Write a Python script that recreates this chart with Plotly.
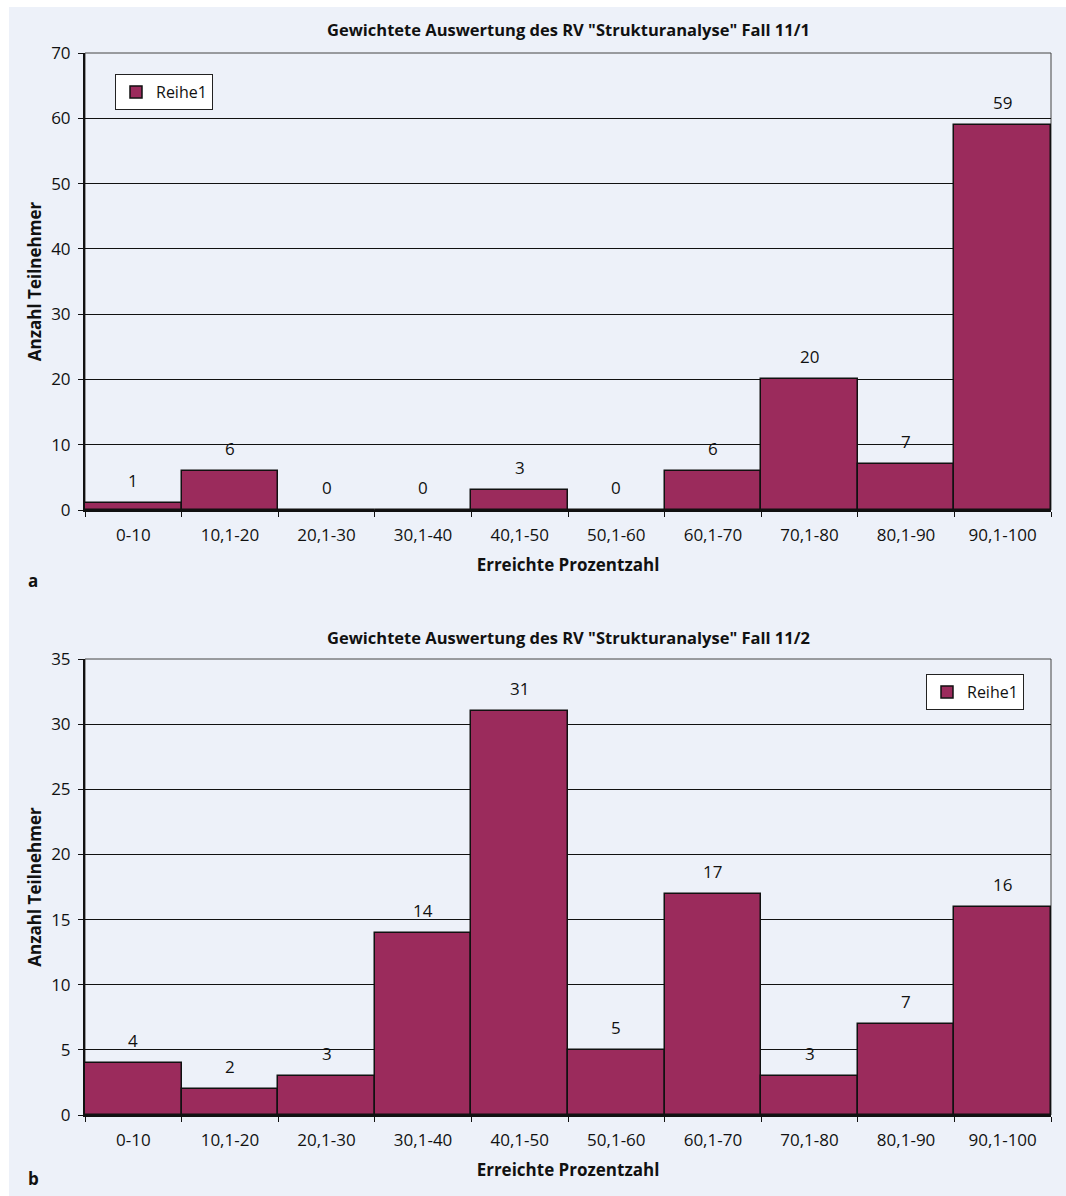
import plotly.graph_objects as go
from plotly.subplots import make_subplots

# Score bands (percent reached)
categories = ["0-10", "10,1-20", "20,1-30", "30,1-40", "40,1-50",
              "50,1-60", "60,1-70", "70,1-80", "80,1-90", "90,1-100"]
# Participant counts per band
fall_11_1 = [1, 6, 0, 0, 3, 0, 6, 20, 7, 59]
fall_11_2 = [4, 2, 3, 14, 31, 5, 17, 3, 7, 16]

title_a = 'Gewichtete Auswertung des RV "Strukturanalyse" Fall 11/1'
title_b = 'Gewichtete Auswertung des RV "Strukturanalyse" Fall 11/2'
x_title = "Erreichte Prozentzahl"
y_title = "Anzahl Teilnehmer"
series_name = "Reihe1"

BAR = "#9b2b5c"
BG = "#edf1f9"
FONT = "Open Sans"
W, H = 1066, 1196

fig = make_subplots(rows=2, cols=1)

fig.add_trace(go.Bar(x=categories, y=fall_11_1, name=series_name,
                     marker=dict(color=BAR, line=dict(color="#111", width=1.5)),
                     legend="legend", showlegend=True), row=1, col=1)
fig.add_trace(go.Bar(x=categories, y=fall_11_2, name=series_name,
                     marker=dict(color=BAR, line=dict(color="#111", width=1.5)),
                     legend="legend2", showlegend=True), row=2, col=1)

xdom = [85 / W, 1051 / W]
ydom_a = [1 - 510 / H, 1 - 53 / H]
ydom_b = [1 - 1115 / H, 1 - 659 / H]

axis_common = dict(showline=True, linecolor="#111", linewidth=2,
                   ticks="outside", ticklen=5, tickcolor="#111",
                   automargin=False,
                   tickfont=dict(size=17, color="#111", family=FONT))

fig.update_xaxes(domain=xdom, tickson="boundaries", showgrid=False,
                 ticklabelstandoff=9,
                 title=dict(text=x_title, font=dict(size=17, color="#111",
                                                    family=FONT, weight="bold"),
                            standoff=14),
                 **axis_common)
fig.update_yaxes(showgrid=True, gridcolor="#111", gridwidth=1, zeroline=False,
                 ticklabelstandoff=4,
                 title=dict(text=y_title, font=dict(size=17, color="#111",
                                                    family=FONT, weight="bold"),
                            standoff=5),
                 **axis_common)
fig.update_yaxes(domain=ydom_a, range=[0, 70], dtick=10, row=1, col=1)
fig.update_yaxes(domain=ydom_b, range=[0, 35], dtick=5, row=2, col=1)

annotations = []
# value labels above each bar
for xref, yref, vals in (("x", "y", fall_11_1), ("x2", "y2", fall_11_2)):
    for c, v in zip(categories, vals):
        annotations.append(dict(x=c, y=v, xref=xref, yref=yref, text=str(v),
                                showarrow=False, yanchor="bottom", yshift=9,
                                font=dict(size=17, color="#111", family=FONT)))
# panel titles
for t, ypix in ((title_a, 30), (title_b, 637)):
    annotations.append(dict(x=(85 + 1051) / 2 / W, y=1 - ypix / H, xref="paper",
                            yref="paper", text=t, showarrow=False,
                            xanchor="center", yanchor="middle",
                            font=dict(size=16.5, color="#111", family=FONT,
                                      weight="bold")))
# panel letters
for t, ypix in (("a", 580), ("b", 1178)):
    annotations.append(dict(x=33 / W, y=1 - ypix / H, xref="paper", yref="paper",
                            text=t, showarrow=False, xanchor="center",
                            yanchor="middle",
                            font=dict(size=17, color="#111", family=FONT,
                                      weight="bold")))

shapes = [
    # white strips along the top and left page edge
    dict(type="rect", xref="paper", yref="paper", x0=0, x1=1, y0=1 - 7 / H,
         y1=1, fillcolor="white", line=dict(width=0), layer="below"),
    dict(type="rect", xref="paper", yref="paper", x0=0, x1=9 / W, y0=0,
         y1=1, fillcolor="white", line=dict(width=0), layer="below"),
]
# thin frame around each plot area
for xr, yr in (("x domain", "y domain"), ("x2 domain", "y2 domain")):
    shapes.append(dict(type="rect", xref=xr, yref=yr, x0=0, x1=1, y0=0, y1=1,
                       line=dict(color="#444", width=1), layer="below"))

legend_style = dict(bgcolor="white", bordercolor="#222", borderwidth=1,
                    font=dict(size=16, color="#111", family=FONT),
                    xanchor="left", yanchor="top", itemwidth=30,
                    tracegroupgap=0)

fig.update_layout(
    width=W, height=H,
    margin=dict(l=0, r=0, t=0, b=0, autoexpand=False),
    paper_bgcolor=BG, plot_bgcolor=BG,
    bargap=0,
    font=dict(family=FONT, color="#111"),
    annotations=annotations, shapes=shapes,
    legend=dict(x=115 / W, y=1 - 74 / H, **legend_style),
    legend2=dict(x=926 / W, y=1 - 674 / H, **legend_style),
)

fig.write_html("out.html")
